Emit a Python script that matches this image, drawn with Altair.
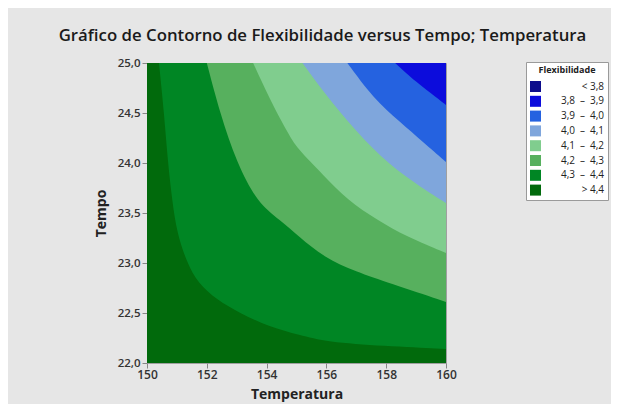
import altair as alt
import pandas as pd

# Legend categories (Flexibilidade levels) and colours
levels = ["< 3,8", "3,8\u2002\u2013\u20023,9", "3,9\u2002\u2013\u20024,0", "4,0\u2002\u2013\u20024,1",
          "4,1\u2002\u2013\u20024,2", "4,2\u2002\u2013\u20024,3", "4,3\u2002\u2013\u20024,4", "> 4,4"]
colors = ["#0d0d8c", "#0c0cdc", "#2562e0", "#7fa6dc", "#80cd8e", "#57b05e", "#008624", "#016a0c"]

# Lower boundaries (Tempo as a function of Temperatura) of each contour band
gt44_x = [150.0, 160.0]
gt44_y = [22.0, 22.0]
b4344_x = [150.4, 150.57, 150.7, 150.84, 151.0, 151.34, 151.7, 152.34, 153.1, 154.1, 155.1, 156.0, 157.9, 160.0]
b4344_y = [25.0, 24.5, 24.0, 23.63, 23.3, 23.0, 22.8, 22.63, 22.5, 22.36, 22.28, 22.21, 22.17, 22.14]
b4243_x = [152.0, 152.44, 153.0, 153.7, 154.45, 155.1, 155.9, 157.0, 158.1, 160.0]
b4243_y = [25.0, 24.5, 24.0, 23.6, 23.43, 23.26, 23.06, 22.91, 22.8, 22.61]
b4142_x = [153.55, 154.2, 154.7, 155.0, 155.9, 156.7, 157.7, 158.7, 160.0]
b4142_y = [25.0, 24.58, 24.31, 24.15, 23.88, 23.63, 23.43, 23.26, 23.1]
b4041_x = [155.2, 155.9, 157.0, 158.1, 159.2, 160.0]
b4041_y = [25.0, 24.71, 24.31, 23.98, 23.75, 23.6]
b3940_x = [156.7, 157.56, 158.46, 159.23, 160.0]
b3940_y = [25.0, 24.65, 24.41, 24.21, 24.01]
b3839_x = [158.3, 159.0, 159.7, 160.0]
b3839_y = [25.0, 24.81, 24.65, 24.58]

x_ticks = [150, 152, 154, 156, 158, 160]
y_ticks = [22.0, 22.5, 23.0, 23.5, 24.0, 24.5, 25.0]

bands = [
    (levels[7], gt44_x, gt44_y),
    (levels[6], b4344_x, b4344_y),
    (levels[5], b4243_x, b4243_y),
    (levels[4], b4142_x, b4142_y),
    (levels[3], b4041_x, b4041_y),
    (levels[2], b3940_x, b3940_y),
    (levels[1], b3839_x, b3839_y),
]

rows = []
for order, (lv, xs, ys) in enumerate(bands):
    for xv, yv in zip(xs, ys):
        rows.append({"level": lv, "order": order, "Temperatura": xv, "Tempo": yv})
df = pd.DataFrame(rows)

FONT = "Open Sans"

color_enc = alt.Color(
    "level:N",
    scale=alt.Scale(domain=levels, range=colors),
    legend=alt.Legend(
        title="Flexibilidade", orient="none", legendX=379, legendY=-1,
        symbolType="square", symbolSize=121, symbolStrokeWidth=0,
        labelAlign="right", labelOffset=63, labelLimit=200,
        labelFontSize=10, labelFont=FONT, labelColor="#222222",
        titleFontSize=9, titleFont=FONT, titleFontWeight="bold", titleColor="#222222",
        titleAnchor="middle", titlePadding=6,
        rowPadding=3.8, padding=4, fillColor="white", strokeColor="#9a9a9a",
    ),
)

x_enc = alt.X("Temperatura:Q", scale=alt.Scale(domain=[150, 160], nice=False, zero=False),
              axis=alt.Axis(values=x_ticks, format="d", title="Temperatura", grid=False,
                            domain=False, tickColor="#888888", tickSize=5, labelPadding=1,
                            labelFlush=False,
                            labelFont=FONT, labelFontSize=12, labelFontWeight=600, labelColor="#333333",
                            titleFont=FONT, titleFontSize=14, titleFontWeight="bold", titleColor="#222222",
                            titlePadding=7))
y_enc = alt.Y("Tempo:Q", scale=alt.Scale(domain=[22, 25], nice=False, zero=False), stack=None,
              axis=alt.Axis(values=y_ticks, labelExpr="replace(format(datum.value, '.1f'), '.', ',')",
                            title="Tempo", grid=False, domain=False, tickColor="#888888", tickSize=5,
                            labelFlush=False,
                            labelPadding=2, labelFont=FONT, labelFontSize=11.5, labelFontWeight=600,
                            labelColor="#333333", titleFont=FONT, titleFontSize=14, titleFontWeight="bold",
                            titleColor="#222222", titlePadding=9))

layers = []
for order, (lv, xs, ys) in enumerate(bands):
    layers.append(
        alt.Chart(df).transform_filter(alt.datum.order == order)
        .mark_area(interpolate="basis", orient="vertical", clip=True)
        .encode(x=x_enc, y=y_enc, y2=alt.datum(25.0), color=color_enc)
    )

chart = alt.layer(*layers).properties(
    width=299, height=300,
    title=alt.TitleParams(
        text="Gráfico de Contorno de Flexibilidade versus Tempo; Temperatura",
        font=FONT, fontSize=16.8, fontWeight=600, color="#1a1a1a",
        anchor="middle", frame="group", dx=26, offset=12,
    ),
    autosize=alt.AutoSizeParams(type="none"),
    padding={"left": 139, "top": 55, "right": 165, "bottom": 41},
).configure(background="#e6e6e6").configure_view(stroke="#a0a0a0", strokeWidth=1)

chart.save("out.html", embed_options={"renderer": "svg", "actions": False})
